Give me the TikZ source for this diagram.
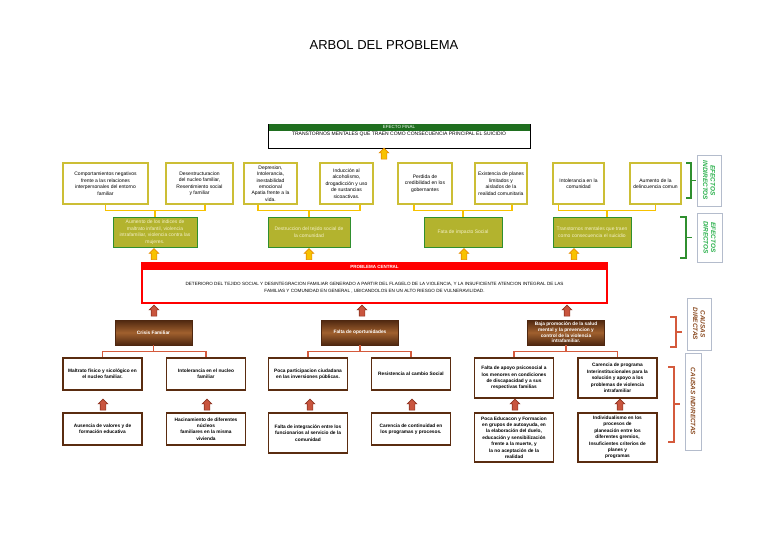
\documentclass[tikz,border=0pt]{standalone}
\usepackage{fontspec}
\setmainfont{Liberation Sans}
\usetikzlibrary{shapes.arrows}

\definecolor{verdeosc}{HTML}{1F6F1F}
\definecolor{amarbor}{HTML}{CCBE35}
\definecolor{amarlin}{HTML}{F7C200}
\definecolor{naranja}{HTML}{E58A00}
\definecolor{oliva}{HTML}{B3B32E}
\definecolor{verdebor}{HTML}{2F8F2F}
\definecolor{textoliva}{HTML}{F4F0C8}
\definecolor{rojo}{HTML}{FF0000}
\definecolor{rojoflecha}{HTML}{C9553E}
\definecolor{rojobor}{HTML}{8E3422}
\definecolor{cafeosc}{HTML}{4E2710}
\definecolor{cafeclaro}{HTML}{A0602E}
\definecolor{cafebor}{HTML}{5A2C10}
\definecolor{salmon}{HTML}{D45A3C}
\definecolor{grisbor}{HTML}{B4BCCC}
\definecolor{verdetxt}{HTML}{28B04A}
\definecolor{cafetxt}{HTML}{8A4A20}

\begin{document}
\begin{tikzpicture}[
    x=1pt, y=-1pt,
    every node/.style={font=\fontsize{5}{6.5}\selectfont, align=center, inner sep=1pt},
    indir/.style={draw=amarbor, line width=1.2pt, fill=white, minimum height=41pt},
    direc/.style={draw=verdebor, line width=1pt, fill=oliva, text=textoliva, minimum height=30pt},
    causa/.style={draw=cafeosc, top color=cafeosc, bottom color=cafeosc, middle color=cafeclaro,
        text=white, font=\bfseries\fontsize{4.8}{6}\selectfont, minimum width=77pt, minimum height=25pt},
    caja/.style={draw=cafebor, line width=1.1pt, fill=white, font=\bfseries\fontsize{4.8}{6.4}\selectfont,
        minimum width=79pt},
    flechaAm/.style={single arrow, draw=naranja, fill=amarlin, rotate=90, minimum height=11pt,
        minimum width=9pt, single arrow head extend=2pt, inner xsep=0pt, inner ysep=2.5pt, line width=0.6pt},
    flechaRo/.style={single arrow, draw=rojobor, fill=rojoflecha, rotate=90, minimum height=11pt,
        minimum width=9pt, single arrow head extend=2pt, inner xsep=0pt, inner ysep=2.5pt, line width=0.6pt},
    lineaAm/.style={draw=amarlin, line width=1.6pt},
    lineaRo/.style={draw=salmon, line width=1.6pt},
    etiq/.style={draw=grisbor, fill=white, rotate=-90, inner sep=0.5pt,
        font=\bfseries\itshape\fontsize{6.4}{7.6}\selectfont},
]
\useasboundingbox (0,0) rectangle (768,542);

% Titulo
\node[font=\fontsize{13}{15}\selectfont] (titulo) at (384,45) {ARBOL DEL PROBLEMA};

% Efecto final
\node[draw=black, line width=0.8pt, minimum width=262pt, minimum height=24pt, inner sep=0pt] (ef) at (399,136) {};
\node[fill=verdeosc, text=white, minimum width=261pt, minimum height=7pt, inner sep=0pt, anchor=north,
    font=\fontsize{4.5}{5}\selectfont] (efh) at (ef.north) {EFECTO FINAL};
\node[anchor=north, inner sep=0.5pt] (eft) at (efh.south) {TRANSTORNOS MENTALES QUE TRAEN COMO CONSECUENCIA PRINCIPAL EL SUICIDIO};
\node[flechaAm] (fa0) at (384,155) {};

% Efectos indirectos
\node[indir, minimum width=85pt] (e1) at (105.5,183.5) {Comportamientos negativos\\frente a las relaciones\\interpersonales del  entorno\\familiar};
\node[indir, minimum width=67pt] (e2) at (199.5,183.5) {Desestructuracion\\del nucleo familiar,\\Resentimiento social\\y familiar};
\node[indir, minimum width=53pt, font=\fontsize{5}{6.3}\selectfont] (e3) at (270.5,183.5) {Depresion,\\Intolerancia,\\inestabilidad\\emocional\\Apatia frente a la\\vida.};
\node[indir, minimum width=53pt] (e4) at (346.5,183.5) {Inducción al\\alcoholismo,\\drogadicción y uso\\de sustancias\\sicoactivas.};
\node[indir, minimum width=54pt] (e5) at (425,183.5) {Perdida de\\credibilidad en los\\gobernantes};
\node[indir, minimum width=52pt] (e6) at (501,183.5) {Existencia de planes\\limitados y\\aislados de la\\realidad comunitaria};
\node[indir, minimum width=51pt] (e7) at (578.5,183.5) {Intolerancia en la\\comunidad};
\node[indir, minimum width=51pt] (e8) at (655.5,183.5) {Aumento de la\\delincuencia comun};

% Efectos directos
\node[direc, minimum width=84pt] (d1) at (155,232) {Aumento de los indices de\\maltrato infantil, violencia\\intrafamiliar, violencia contra las\\mujeres.};
\node[direc, minimum width=82pt] (d2) at (309,232) {Destruccion  del tejido social de\\la comunidad};
\node[direc, minimum width=78pt] (d3) at (463,232) {Fata de impacto Social};
\node[direc, minimum width=78pt] (d4) at (592,232) {Transtornos mentales que traen\\como consecuencia el suicidio};

% Llaves amarillas
\draw[lineaAm] (e1.south) -- ++(0,6) -| ([xshift=5.5pt]e2.south);
\draw[lineaAm] (d1.north) -- ++(0,-7);
\draw[lineaAm] ([xshift=-12.5pt]e3.south) -- ++(0,6) -| ([xshift=13.5pt]e4.south);
\draw[lineaAm] (d2.north) -- ++(0,-7);
\draw[lineaAm] ([xshift=-11pt]e5.south) -- ++(0,6) -| ([xshift=11pt]e6.south);
\draw[lineaAm] (d3.north) -- ++(0,-7);
\draw[lineaAm] ([xshift=-20pt]e7.south) -- ++(0,6) -| (e8.south);
\draw[lineaAm] ([xshift=15pt]d4.north) -- ++(0,-7);

% Flechas hacia los efectos directos
\node[flechaAm] (fa1) at (154,255.5) {};
\node[flechaAm] (fa2) at (309,255.5) {};
\node[flechaAm] (fa3) at (464,255.5) {};
\node[flechaAm] (fa4) at (574,255.5) {};

% Problema central
\node[draw=rojo, line width=1.5pt, minimum width=465pt, minimum height=40pt, inner sep=0pt] (pc) at (374.5,283) {};
\node[fill=rojo, text=white, minimum width=464pt, minimum height=8pt, inner sep=0pt, anchor=north,
    font=\bfseries\fontsize{4.5}{5}\selectfont] (pch) at (pc.north) {PROBLEMA CENTRAL};
\node[font=\fontsize{4.6}{7}\selectfont] (pct) at (374.5,288) {DETERIORO DEL TEJIDO SOCIAL Y DESINTEGRACION FAMILIAR GENERADO A PARTIR DEL FLAGELO DE LA VIOLENCIA, Y LA INSUFICIENTE ATENCION INTEGRAL DE LAS\\FAMILIAS Y COMUNIDAD EN GENERAL , UBICANDOLOS EN UN ALTO RIESGO DE VULNERAVILIDAD.};

% Flechas hacia el problema
\node[flechaRo] (fr1) at (154,312) {};
\node[flechaRo] (fr2) at (362,312) {};
\node[flechaRo] (fr3) at (567,312) {};

% Causas directas
\node[causa] (c1) at (153.5,332.5) {Crisis Familiar};
\node[causa] (c2) at (360,332.5) {Falta de oportunidades};
\node[causa, font=\bfseries\fontsize{4.8}{5.6}\selectfont] (c3) at (566,332.5) {Baja promoción de la salud\\mental y la prevencion y\\control de la violencia\\intrafamiliar.};

% Causas indirectas, primer nivel
\node[caja, minimum height=32pt] (i1) at (102.5,374) {Maltrato físico y sicológico en\\el nucleo familiar.};
\node[caja, minimum height=32pt] (i2) at (206,374) {Intolerancia en el nucleo\\familiar};
\node[caja, minimum height=32pt] (i3) at (308,374) {Poca participacion ciudadana\\en las inversiones públicas.};
\node[caja, minimum height=32pt] (i4) at (411,374) {Resistencia al cambio Social};
\node[caja, minimum height=40pt] (i5) at (514,378) {Falta de apoyo psicosocial a\\los menores en condiciones\\de discapacidad y a sus\\respectivas familias};
\node[caja, minimum height=40pt] (i6) at (617.5,378) {Carencia de programa\\Interinstitucionales para la\\solución y apoyo a los\\problemas de violencia\\intrafamiliar};

% Llaves rojas
\draw[lineaRo] (c1.south) -- ++(0,7);
\draw[lineaRo] (i1.north) -- ++(0,-6) -| (i2.north);
\draw[lineaRo] (c2.south) -- ++(0,7);
\draw[lineaRo] (i3.north) -- ++(0,-6) -| (i4.north);
\draw[lineaRo] (c3.south) -- ++(0,7);
\draw[lineaRo] (i5.north) -- ++(0,-6) -| (i6.north);

% Flechas del segundo nivel
\node[flechaRo] (fr4) at (103,406) {};
\node[flechaRo] (fr5) at (207,406) {};
\node[flechaRo] (fr6) at (310,406) {};
\node[flechaRo] (fr7) at (412,406) {};
\node[flechaRo] (fr8) at (515,406) {};
\node[flechaRo] (fr9) at (620,406) {};

% Causas indirectas, segundo nivel
\node[caja, minimum height=32pt] (l1) at (102.5,429) {Ausencia de valores y de\\formación educativa};
\node[caja, minimum height=32pt] (l2) at (206,429) {Hacinamiento de diferentes\\núcleos\\familiares en la misma\\vivienda};
\node[caja, minimum height=40pt] (l3) at (308,433) {Falta de integración entre los\\funcionarios al servicio de la\\comunidad};
\node[caja, minimum height=32pt] (l4) at (411,429) {Carencia de continuidad en\\los programas y procesos.};
\node[caja, minimum height=49pt] (l5) at (514,437.5) {Poca Educacon y Formacion\\en  grupos de autoayuda, en\\la elaboración del duelo,\\educación y sensibilización\\frente a la muerte, y\\la no aceptación de la\\realidad};
\node[caja, minimum height=49pt] (l6) at (617.5,437.5) {Individualismo en los\\procesos de\\planeación entre los\\diferentes gremios,\\Insuficientes criterios de\\planes y\\programas};

% Etiquetas de la derecha
\node[etiq, text=verdetxt, minimum width=51pt, minimum height=24pt] (et1) at (709,180.5) {EFECTOS\\INDIRECTOS};
\node[etiq, text=verdetxt, minimum width=49pt, minimum height=25pt] (et2) at (709.5,237.5) {EFECTOS\\DIRECTOS};
\node[etiq, text=cafetxt, minimum width=52pt, minimum height=24pt] (et3) at (699,324) {CAUSAS\\DIRECTAS};
\node[etiq, text=cafetxt, minimum width=97pt, minimum height=16pt] (et4) at (693,401.5) {CAUSAS INDIRECTAS};

\draw[draw=verdebor, line width=1.4pt] (686,163) -- (691,163) -- (691,198) -- (686,198) (691,180.5) -- (696,180.5);
\draw[draw=verdebor, line width=1.4pt] (680,217) -- (686,217) -- (686,258) -- (680,258) (686,237.5) -- (692,237.5);
\draw[lineaRo, line width=1.4pt] (670,317) -- (676,317) -- (676,347) -- (670,347) (676,332) -- (682,332);
\draw[lineaRo, line width=1.4pt] (668,367) -- (674,367) -- (674,442) -- (668,442) (674,404) -- (680,404);

\end{tikzpicture}
\end{document}
